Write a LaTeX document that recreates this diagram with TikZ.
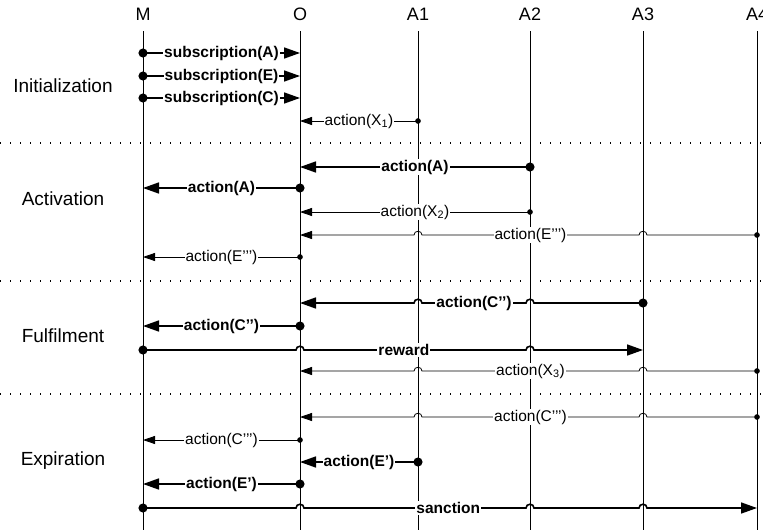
\documentclass[tikz,border=0pt]{standalone}
\usepackage{fontspec}
\setmainfont{Liberation Sans}
\usepackage{tikz}
\usetikzlibrary{arrows.meta}

\tikzset{
  life/.style={line width=1pt},
  phasesep/.style={line width=1.2pt, dash pattern=on 1.2pt off 8.8pt},
  msgb/.style={line width=1.6pt, {Circle[length=9pt]}-{Triangle[length=16pt,width=11pt]}, shorten <=-4.5pt},
  msg/.style={line width=0.8pt, {Circle[length=5.5pt]}-{Triangle[length=12pt,width=8pt]}, shorten <=-2.75pt},
  lblb/.style={fill=white, inner sep=1pt, font=\bfseries\fontsize{15.5}{18}\selectfont},
  lbl/.style={fill=white, inner sep=1pt, font=\fontsize{15.5}{18}\selectfont},
  phase/.style={font=\fontsize{19}{22}\selectfont},
  head/.style={font=\fontsize{18}{21}\selectfont}
}

\begin{document}
\begin{tikzpicture}[x=1pt,y=-1pt]
\useasboundingbox (0,0) rectangle (763,530);

% Lifelines
\foreach \n/\x in {M/143,O/300,A1/418,A2/530,A3/643,A4/757}{
  \node[head] (\n) at (\x,14) {\n};
  \draw[life] (\n |- 0,31) -- (\n |- 0,530);
}

% Phase separators
\foreach \y in {143,281,394} \draw[phasesep] (0,\y) -- (763,\y);

% Phases
\node[phase] (init) at (63,86) {Initialization};
\node[phase] (activ) at (63,199) {Activation};
\node[phase] (fulf) at (63,336) {Fulfilment};
\node[phase] (expir) at (63,461) {Expiration};

% Initialization
\draw[msgb] (M |- 0,53) -- node[lblb]{subscription(A)} (O |- 0,53);
\draw[msgb] (M |- 0,76) -- node[lblb]{subscription(E)} (O |- 0,76);
\draw[msgb] (M |- 0,98) -- node[lblb]{subscription(C)} (O |- 0,98);
\draw[msg] (A1 |- 0,121) -- node[lbl]{action(X\textsubscript{1})} (O |- 0,121);

% Activation
\draw[msgb] (A2 |- 0,167) -- node[lblb]{action(A)} (O |- 0,167);
\draw[msgb] (O |- 0,188) -- node[lblb]{action(A)} (M |- 0,188);
\draw[msg] (A2 |- 0,212) -- node[lbl]{action(X\textsubscript{2})} (O |- 0,212);
\draw[msg] (A4 |- 0,235) -- (647,235) .. controls (647,230) and (639,230) .. (639,235)
  -- node[lbl]{action(E’’’)} (422,235) .. controls (422,230) and (414,230) .. (414,235) -- (O |- 0,235);
\draw[msg] (O |- 0,257) -- node[lbl]{action(E’’’)} (M |- 0,257);

% Fulfilment
\draw[msgb] (A3 |- 0,303) -- (534,303) .. controls (534,298) and (526,298) .. (526,303)
  -- node[lblb]{action(C’’)} (422,303) .. controls (422,298) and (414,298) .. (414,303) -- (O |- 0,303);
\draw[msgb] (O |- 0,326) -- node[lblb]{action(C’’)} (M |- 0,326);
\draw[msgb] (M |- 0,350) -- (296,350) .. controls (296,345) and (304,345) .. (304,350)
  -- node[lblb,pos=.45]{reward} (526,350) .. controls (526,345) and (534,345) .. (534,350) -- (A3 |- 0,350);
\draw[msg] (A4 |- 0,371) -- (647,371) .. controls (647,366) and (639,366) .. (639,371)
  -- node[lbl]{action(X\textsubscript{3})} (422,371) .. controls (422,366) and (414,366) .. (414,371) -- (O |- 0,371);

% Expiration
\draw[msg] (A4 |- 0,417) -- (647,417) .. controls (647,412) and (639,412) .. (639,417)
  -- node[lbl]{action(C’’’)} (422,417) .. controls (422,412) and (414,412) .. (414,417) -- (O |- 0,417);
\draw[msg] (O |- 0,440) -- node[lbl]{action(C’’’)} (M |- 0,440);
\draw[msgb] (A1 |- 0,462) -- node[lblb]{action(E’)} (O |- 0,462);
\draw[msgb] (O |- 0,484) -- node[lblb]{action(E’)} (M |- 0,484);
\draw[msgb] (M |- 0,508) -- (296,508) .. controls (296,503) and (304,503) .. (304,508)
  -- node[lblb,pos=.65]{sanction} (526,508) .. controls (526,503) and (534,503) .. (534,508)
  -- (639,508) .. controls (639,503) and (647,503) .. (647,508) -- (A4 |- 0,508);
\end{tikzpicture}
\end{document}
